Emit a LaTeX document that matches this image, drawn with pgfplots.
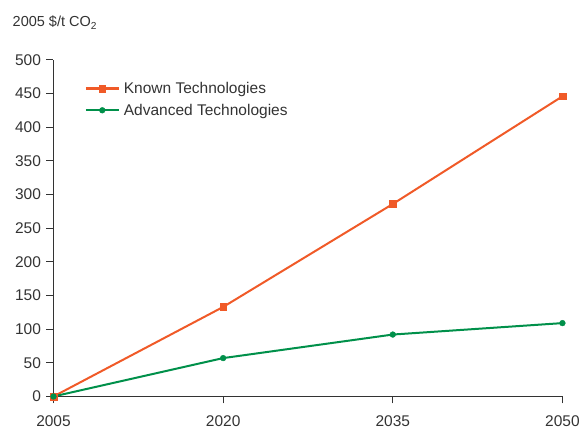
\documentclass[border=0pt]{standalone}
\usepackage{fontspec}
\setmainfont{Liberation Sans}
\usepackage{pgfplots}
\pgfplotsset{compat=1.18}
\definecolor{knownc}{HTML}{F05A28}
\definecolor{advc}{HTML}{00904A}
\definecolor{txtc}{HTML}{333333}
\begin{document}
\begin{tikzpicture}
\begin{axis}[
  scale only axis,
  width=509pt, height=336.5pt,
  xmin=2005, xmax=2050, ymin=0, ymax=500,
  axis lines*=left,
  axis line style={txtc, line width=1pt},
  xtick={2005,2020,2035,2050},
  ytick={0,50,...,500},
  tick align=outside,
  major tick length=7pt,
  tick style={txtc, line width=1pt},
  clip=false,
  /pgf/number format/1000 sep={},
  /pgf/number format/assume math mode=true,
  tick label style={font=\fontsize{15.5}{18}\selectfont, text=txtc},
  yticklabel style={xshift=-2pt},
  xticklabel style={yshift=-9pt},
  legend style={at={(0,1)}, anchor=north west, xshift=31pt, yshift=-20pt,
    draw=none, fill=none, inner sep=0pt,
    font=\fontsize{15.5}{18}\selectfont, text=txtc, row sep=5pt,
    nodes={inner xsep=4pt}},
  legend cell align=left,
  legend image code/.code={%
    \draw[line width=2.2pt, mark repeat=2, mark phase=2]
      plot coordinates {(0pt,0pt) (16.5pt,0pt) (33pt,0pt)};},
]
\addplot[knownc, line width=2pt, mark=square*, mark size=3.3pt,
  mark options={line width=0.4pt}] coordinates {
  (2005,0) (2020,133) (2035,286) (2050,446)};
\addlegendentry{Known Technologies}
\addplot[advc, line width=2pt, mark=*, mark size=2.9pt,
  mark options={line width=0.4pt}] coordinates {
  (2005,0) (2020,57) (2035,92) (2050,109)};
\addlegendentry{Advanced Technologies}
\end{axis}
\node[anchor=base west, inner sep=0pt, text=txtc, font=\fontsize{14.5}{17}\selectfont]
  at (-41pt,369.5pt) {2005 \$/t CO\textsubscript{2}};
\path (-53.5pt,-31.5pt) rectangle (529.5pt,396.5pt);
\end{tikzpicture}
\end{document}
